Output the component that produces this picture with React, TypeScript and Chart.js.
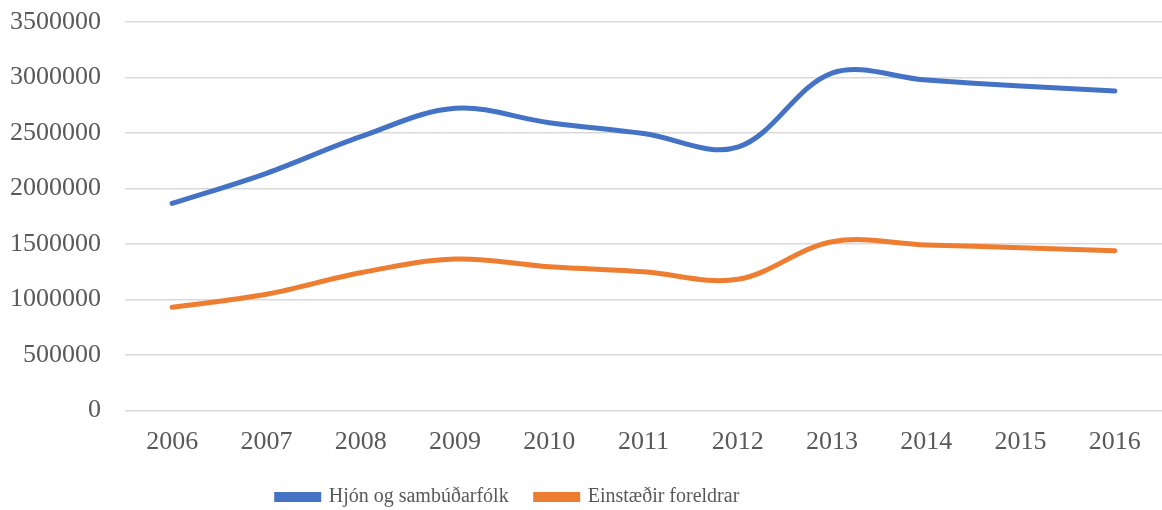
import React, { useEffect, useRef } from "react";
import { Chart, registerables } from "chart.js";

Chart.register(...registerables);

const years = ["2006", "2007", "2008", "2009", "2010", "2011", "2012", "2013", "2014", "2015", "2016"];
const hjon = [1865000, 2137000, 2467000, 2722000, 2593000, 2495000, 2372000, 3040000, 2977000, 2923000, 2878000];
const einstaedir = [930000, 1047000, 1241000, 1365000, 1295000, 1250000, 1182000, 1521000, 1491000, 1467000, 1440000];
const seriesNames = ["Hjón og sambúðarfólk", "Einstæðir foreldrar"];

const FONT = "'Liberation Serif', 'Times New Roman', serif";
const TEXT = "#595959";

const legendShift = {
  id: "legendShift",
  afterLayout(chart: any) {
    const lg = chart.legend;
    if (lg) {
      lg.left -= 73;
      lg.right -= 73;
    }
  },
};

export default function App() {
  const ref = useRef<HTMLCanvasElement | null>(null);
  useEffect(() => {
    if (!ref.current) return;
    const chart = new Chart(ref.current, {
      type: "line",
      data: {
        labels: years,
        datasets: [
          {
            label: seriesNames[0],
            data: hjon,
            borderColor: "#4472C4",
            backgroundColor: "#4472C4",
            borderWidth: 5,
            pointRadius: 0,
            tension: 0.35,
            borderCapStyle: "round",
            fill: false,
          },
          {
            label: seriesNames[1],
            data: einstaedir,
            borderColor: "#ED7D31",
            backgroundColor: "#ED7D31",
            borderWidth: 5,
            pointRadius: 0,
            tension: 0.35,
            borderCapStyle: "round",
            fill: false,
          },
        ],
      },
      options: {
        animation: false,
        responsive: false,
        layout: { padding: { top: 0, right: 0, bottom: 0, left: 0 } },
        scales: {
          x: {
            offset: true,
            afterFit: (s: any) => {
              s.height = 49.5;
            },
            grid: { display: false, drawTicks: false },
            border: { display: false },
            ticks: {
              color: TEXT,
              font: { family: FONT, size: 26, lineHeight: 1.385 },
              padding: 13.5,
              maxRotation: 0,
            },
          },
          y: {
            min: 0,
            max: 3500000,
            afterFit: (s: any) => {
              s.width = 125;
              s.paddingTop = 22;
              s.paddingBottom = 0;
            },
            grid: { color: "#D9D9D9", lineWidth: 1.5, drawTicks: false },
            border: { display: false },
            ticks: {
              stepSize: 500000,
              color: TEXT,
              font: { family: FONT, size: 26, lineHeight: 0.8 },
              padding: 24,
              callback: (v: any) => String(v),
            },
          },
        },
        plugins: {
          legend: {
            position: "bottom",
            maxHeight: 50,
            labels: {
              color: TEXT,
              font: { family: FONT, size: 20 },
              boxWidth: 42,
              boxHeight: 5,
              padding: 27,
            },
          },
          tooltip: { enabled: false },
        },
      },
      plugins: [legendShift],
    });
    return () => chart.destroy();
  }, []);
  return (
    <div style={{ position: "absolute", left: 0, top: 0, width: 1162, height: 510, background: "#fff" }}>
      <canvas ref={ref} width={1162} height={510} />
    </div>
  );
}
